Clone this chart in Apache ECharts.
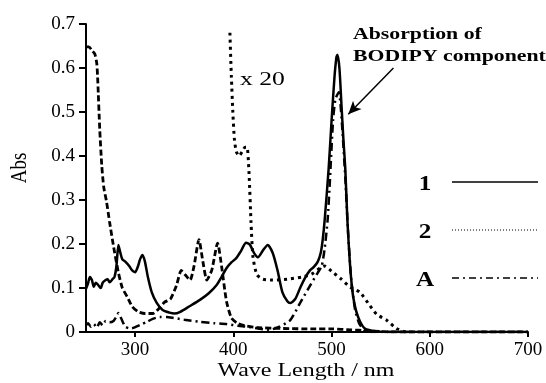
<!DOCTYPE html>
<html>
<head>
<meta charset="utf-8">
<script src="https://cdn.jsdelivr.net/npm/echarts@6/dist/echarts.min.js"></script>
<style>
  html, body { margin: 0; padding: 0; background: #fff; }
  #chart { width: 546px; height: 383px; }
</style>
</head>
<body>
<div id="chart"></div>
<script>
// wavelength (nm) / absorbance pairs
const curve1 = [
  [250,0.098],[252,0.11],[254,0.125],[256,0.118],[258,0.103],[260,0.112],[262,0.108],[265,0.1],
  [267,0.112],[270,0.118],[272,0.12],[274,0.113],[277,0.12],[279,0.125],[281,0.15],[283,0.198],
  [285,0.18],[287,0.165],[290,0.16],[294,0.15],[297,0.14],[300,0.136],[303,0.15],[305,0.165],
  [307.5,0.175],[310,0.16],[313,0.125],[317,0.09],[322,0.066],[328,0.05],[335,0.044],[340,0.042],
  [346,0.046],[355,0.058],[366,0.073],[375,0.088],[383,0.107],[388,0.125],[393,0.145],[398,0.158],
  [403,0.168],[408,0.185],[413,0.203],[417,0.198],[421,0.18],[425,0.17],[430,0.185],[435,0.198],
  [440,0.18],[445,0.14],[450,0.09],[455,0.07],[458,0.066],[463,0.075],[468,0.1],[473,0.123],
  [478,0.14],[482,0.148],[486,0.16],[489,0.18],[491,0.21],[493,0.255],[497,0.37],[500,0.48],
  [503,0.58],[505,0.625],[506,0.63],[508,0.6],[510,0.52],[512,0.44],[514,0.37],[516,0.26],
  [518,0.18],[520,0.12],[522,0.08],[525,0.048],[529,0.024],[534,0.008],[545,0.002],[560,0],[700,0]
];

const curve2 = [
  [250,0.648],[253,0.648],[256,0.64],[259,0.632],[261,0.61],[262,0.57],[264,0.46],[266,0.38],
  [268,0.33],[271,0.295],[274,0.25],[278,0.195],[283,0.135],[287,0.1],[292,0.08],[297,0.058],
  [303,0.046],[310,0.042],[318,0.042],[325,0.055],[330,0.068],[336,0.075],[342,0.105],[347,0.14],
  [351,0.13],[356,0.118],[360,0.15],[365,0.21],[369,0.16],[373,0.118],[378,0.14],[384,0.202],
  [388,0.15],[393,0.07],[398,0.032],[404,0.02],[412,0.014],[425,0.01],[450,0.008],[480,0.007],
  [500,0.007],[520,0.005],[535,0.003],[550,0.001],[570,0],[700,0]
];

// curve 2 magnified x20 above 395 nm
const curve2x20 = [
  [396.5,0.68],[398,0.58],[399.5,0.5],[401,0.44],[403,0.41],[406,0.4],[409,0.41],[412,0.42],
  [414,0.42],[416,0.36],[418,0.25],[420,0.17],[424,0.13],[430,0.12],[440,0.118],[455,0.12],
  [470,0.125],[480,0.132],[488,0.145],[493,0.15],[500,0.138],[510,0.12],[519,0.102],[529,0.09],
  [539,0.06],[546,0.04],[556,0.027],[566,0.008],[575,0]
];

const curveA = [
  [250,0.015],[252,0.02],[255,0.012],[258,0.018],[261,0.01],[264,0.022],[267,0.015],[270,0.025],
  [274,0.022],[278,0.025],[281,0.035],[283,0.043],[286,0.03],[290,0.012],[295,0.008],[299,0.01],
  [305,0.016],[312,0.023],[318,0.03],[325,0.034],[332,0.034],[339,0.032],[350,0.028],[366,0.023],
  [380,0.02],[393,0.018],[405,0.014],[414,0.012],[425,0.008],[437,0.005],[447,0.012],[458,0.027],
  [468,0.066],[478,0.105],[486,0.135],[490,0.15],[493,0.19],[496,0.255],[498,0.33],[501.5,0.48],
  [504,0.53],[507.5,0.545],[509,0.52],[511,0.46],[514,0.35],[517,0.22],[520,0.12],[524,0.05],
  [528,0.02],[533,0.005],[540,0],[700,0]
];

const xTicks = [300, 400, 500, 600, 700];
const arrowFrom = [563, 0.6];
const arrowTo = [517, 0.495];
const legendNames = ['1', '2', 'A'];

const serif = 'Liberation Serif';
const stretch = 1.28;   // the original figure is stretched sideways

const chart = echarts.init(document.getElementById('chart'), null, { renderer: 'canvas' });

// hand-drawn key: label, then a line sample
const keyY = [182, 230, 278];
const keyDash = [null, [1, 2], [7, 4, 2, 4]];
const keyWidth = [1.6, 1.2, 1.6];
const keyGraphics = [];
legendNames.forEach((name, i) => {
  keyGraphics.push({
    type: 'text', x: 425, y: keyY[i] + 3, scaleX: 1.2,
    style: { text: name, font: 'bold 21px "Liberation Serif"', fill: '#000', textAlign: 'center', textVerticalAlign: 'middle' }
  });
  keyGraphics.push({
    type: 'line', shape: { x1: 452, y1: keyY[i], x2: 538, y2: keyY[i] },
    style: { stroke: '#000', lineWidth: keyWidth[i], lineDash: keyDash[i] }
  });
});

chart.setOption({
  animation: false,
  backgroundColor: '#fff',
  grid: { left: 86, right: 18, top: 24, bottom: 51, containLabel: false },
  xAxis: {
    type: 'value',
    min: 250,
    max: 700,
    axisLine: { show: true, onZero: false, lineStyle: { color: '#000', width: 2 } },
    axisTick: { show: true, inside: false, length: 5, customValues: xTicks, lineStyle: { color: '#000', width: 2 } },
    axisLabel: { customValues: xTicks, margin: 9, fontFamily: serif, fontSize: 19, color: '#000' },
    splitLine: { show: false }
  },
  yAxis: {
    type: 'value',
    min: 0,
    max: 0.7,
    interval: 0.1,
    axisLine: { show: true, lineStyle: { color: '#000', width: 2 } },
    axisTick: { show: true, inside: false, length: 7, lineStyle: { color: '#000', width: 2 } },
    axisLabel: {
      margin: 11, fontFamily: serif, fontSize: 19, color: '#000',
      formatter: v => v === 0 ? '0' : v.toFixed(1)
    },
    splitLine: { show: false }
  },
  series: [
    {
      name: 'A', type: 'line', data: curveA, symbol: 'none', smooth: 0.2,
      lineStyle: { color: '#000', width: 2.5, type: [8, 4, 2, 4] }
    },
    {
      name: '2', type: 'line', data: curve2, symbol: 'none', smooth: 0.2,
      lineStyle: { color: '#000', width: 2.8, type: [6, 3] }
    },
    {
      name: '2 x20', type: 'line', data: curve2x20, symbol: 'none', smooth: 0.2,
      lineStyle: { color: '#000', width: 3, type: [3, 4] }
    },
    {
      name: '1', type: 'line', data: curve1, symbol: 'none', smooth: 0.25,
      lineStyle: { color: '#000', width: 2.5, type: 'solid' },
      markLine: {
        silent: true,
        symbol: ['none', 'arrow'],
        symbolSize: [9, 13],
        label: { show: false },
        lineStyle: { color: '#000', width: 1.5, type: 'solid' },
        data: [[{ coord: arrowFrom }, { coord: arrowTo }]]
      }
    }
  ],
  graphic: [
    {
      type: 'text', x: 353, y: 35, scaleX: stretch,
      style: { text: 'Absorption of', font: 'bold 17px "Liberation Serif"', fill: '#000', textVerticalAlign: 'middle' }
    },
    {
      type: 'text', x: 353, y: 57, scaleX: stretch,
      style: { text: 'BODIPY component', font: 'bold 17px "Liberation Serif"', fill: '#000', textVerticalAlign: 'middle' }
    },
    {
      type: 'text', x: 240, y: 80, scaleX: 1.35,
      style: { text: 'x 20', font: '19px "Liberation Serif"', fill: '#000', textVerticalAlign: 'middle' }
    },
    {
      type: 'text', x: 306, y: 371, scaleX: 1.33,
      style: { text: 'Wave Length / nm', font: '18px "Liberation Serif"', fill: '#000', textAlign: 'center', textVerticalAlign: 'middle' }
    },
    {
      type: 'text', x: 20, y: 168, rotation: Math.PI / 2, scaleY: 1.25,
      style: { text: 'Abs', font: '19px "Liberation Serif"', fill: '#000', textAlign: 'center', textVerticalAlign: 'middle' }
    }
  ].concat(keyGraphics)
});
</script>
</body>
</html>
